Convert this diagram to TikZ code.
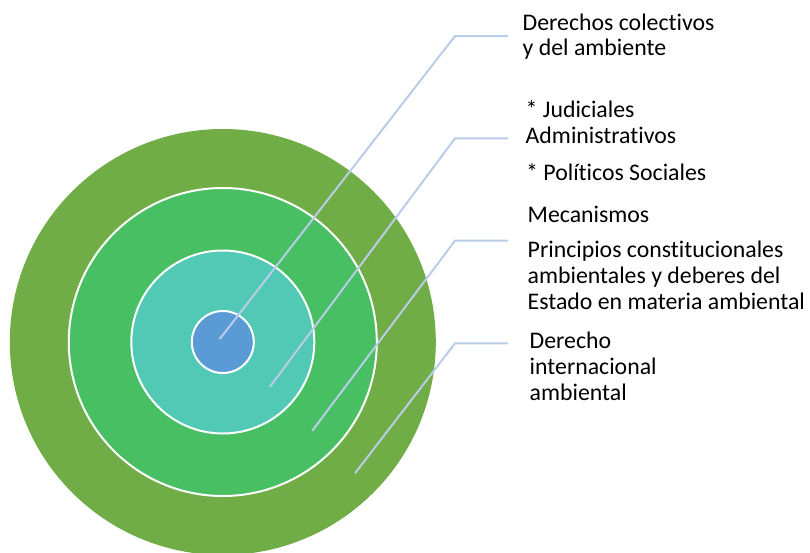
\documentclass[tikz,border=0pt]{standalone}
\usepackage{fontspec}
\setmainfont[Ligatures=NoCommon]{Carlito}
\definecolor{ringA}{HTML}{70AD47}
\definecolor{ringB}{HTML}{48BF63}
\definecolor{ringC}{HTML}{52C9B5}
\definecolor{ringD}{HTML}{5B9BD5}
\definecolor{leader}{HTML}{B9CDE8}
\tikzset{
  ringwhite/.style={draw=white, line width=2pt},
  leaderline/.style={draw=leader, line width=2pt},
  lbl/.style={anchor=base west, inner sep=0pt, align=left, font=\fontsize{23.8}{25.8}\selectfont},
  lblt/.style={lbl, font=\fontsize{23.8}{24.7}\selectfont}
}
\begin{document}
\begin{tikzpicture}[x=1pt,y=-1pt]
\useasboundingbox (0,0) rectangle (810,552);
\clip (0,0) rectangle (810,552);
\coordinate (c) at (222.8,342);
\fill[ringA] (c) circle (213pt);
\path[fill=ringB, ringwhite] (c) circle (154pt);
\path[fill=ringC, ringwhite] (c) circle (91.5pt);
\path[fill=ringD, ringwhite] (c) circle (31pt);
% labels (base anchor = baseline of last line)
\node[lblt] (l1) at (522.5,55.5) {Derechos colectivos\\y del ambiente};
\node[lbl] (l2) at (525.5,143.3) {* Judiciales\\Administrativos};
\node[lbl] (l2b) at (526,180) {* Políticos Sociales};
\node[lbl] (l3a) at (527.5,222.5) {Mecanismos};
\node[lbl] (l3) at (527.5,309.5) {Principios constitucionales\\ambientales y deberes del\\Estado en materia ambiental};
\node[lbl] (l4) at (529.5,400) {Derecho\\internacional\\ambiental};
% leader coordinates
\coordinate (s1) at (219.7,339);
\coordinate (k1) at (455,36);
\coordinate (e1) at (508,36);
\coordinate (s2) at (270,386.7);
\coordinate (k2) at (455,138.3);
\coordinate (e2) at (508,138.3);
\coordinate (s3) at (312.3,430.7);
\coordinate (k3) at (455,240.7);
\coordinate (e3) at (508,240.7);
\coordinate (s4) at (355,473.3);
\coordinate (k4) at (455,343.3);
\coordinate (e4) at (508,343.3);
\draw[leaderline] (s1) -- (k1) -- (e1);
\draw[leaderline] (s2) -- (k2) -- (e2);
\draw[leaderline] (s3) -- (k3) -- (e3);
\draw[leaderline] (s4) -- (k4) -- (e4);
\end{tikzpicture}
\end{document}
